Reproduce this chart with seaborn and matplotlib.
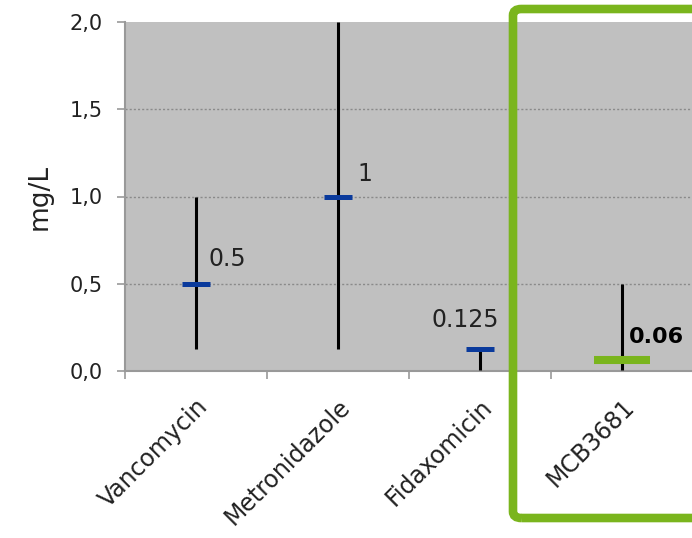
import matplotlib
matplotlib.use("Agg")
import matplotlib.pyplot as plt
import seaborn as sns
import pandas as pd
from matplotlib.patches import FancyBboxPatch

# MIC data (mg/L)
drugs = ['Vancomycin', 'Metronidazole', 'Fidaxomicin', 'MCB3681']
mic_low = [0.125, 0.125, 0.008, 0.008]
mic_high = [1.0, 2.0, 0.125, 0.5]
mic50 = [0.5, 1.0, 0.125, 0.0625]
mic_labels = ['0.5', '1', '0.125', '0.06']

df = pd.DataFrame({'drug': drugs, 'lo': mic_low, 'hi': mic_high, 'mic': mic50})

sns.set_style('ticks', {'axes.facecolor': '#c0c0c0'})
plt.rcParams['font.family'] = ['DejaVu Sans']

fig = plt.figure(figsize=(6.92, 5.38), dpi=100)
ax = fig.add_axes([125 / 692, 1 - 371 / 538, 568 / 692, 349 / 538])

pos = list(range(len(df)))
ax.vlines(pos, df['lo'], df['hi'], color='black', lw=2.2, zorder=3)

half = [0.1, 0.1, 0.1, 0.2]
marker_col = ['#0a3a9c', '#0a3a9c', '#0a3a9c', '#7ab51d']
marker_lw = [3.6, 3.6, 3.6, 5.8]
ax.hlines(df['mic'], [p - h for p, h in zip(pos, half)], [p + h for p, h in zip(pos, half)],
          colors=marker_col, linewidths=marker_lw, zorder=4)

# value labels
lab_x = [0.085, 1.14, 1.66, 3.05]
lab_y = [0.60, 1.09, 0.25, 0.16]
for i, t in enumerate(mic_labels):
    bold = (i == 3)
    ax.text(lab_x[i], lab_y[i], t, ha='left', va='baseline',
            fontsize=16 if bold else 17, fontweight='bold' if bold else 'normal',
            color='black' if bold else '#222222', zorder=5)

ax.set_xlim(-0.5, len(df) - 0.5)
ax.set_ylim(0, 2.0)
ax.set_yticks([0, 0.5, 1.0, 1.5, 2.0])
ax.set_yticklabels(['0,0', '0,5', '1,0', '1,5', '2,0'], fontsize=15, color='#222222')
ax.yaxis.grid(True, linestyle=(0, (1.5, 1.5)), color='#8a8a8a', lw=1.0)
gl = ax.get_ygridlines()
gl[0].set_visible(False)
gl[-1].set_visible(False)
ax.set_axisbelow(True)

ax.set_xticks(pos)
ax.set_xticklabels(drugs, rotation=45, ha='right', rotation_mode='anchor',
                   fontsize=17, color='#222222')
ax.tick_params(axis='x', which='major', length=0, pad=17)
ax.set_xticks([p - 0.5 for p in pos] + [len(df) - 0.5], minor=True)
ax.tick_params(axis='x', which='minor', length=6, color='#999999', width=1.2)
ax.tick_params(axis='y', length=6, color='#999999', width=1.2, pad=10)

for s in ['top', 'right']:
    ax.spines[s].set_visible(False)
for s in ['left', 'bottom']:
    ax.spines[s].set_color('#999999')
    ax.spines[s].set_linewidth(1.5)

ax.set_ylabel('mg/L', fontsize=19, color='#222222', labelpad=12)

# green highlight frame around MCB3681
frame = FancyBboxPatch((513 / 692, 1 - 518 / 538), 260 / 692, 509 / 538,
                       boxstyle='round,pad=0,rounding_size=0.012',
                       transform=fig.transFigure, fill=False,
                       edgecolor='#7ab51d', lw=6.2, zorder=10, clip_on=False)
fig.patches.append(frame)

fig.savefig('out.png', dpi=100)
